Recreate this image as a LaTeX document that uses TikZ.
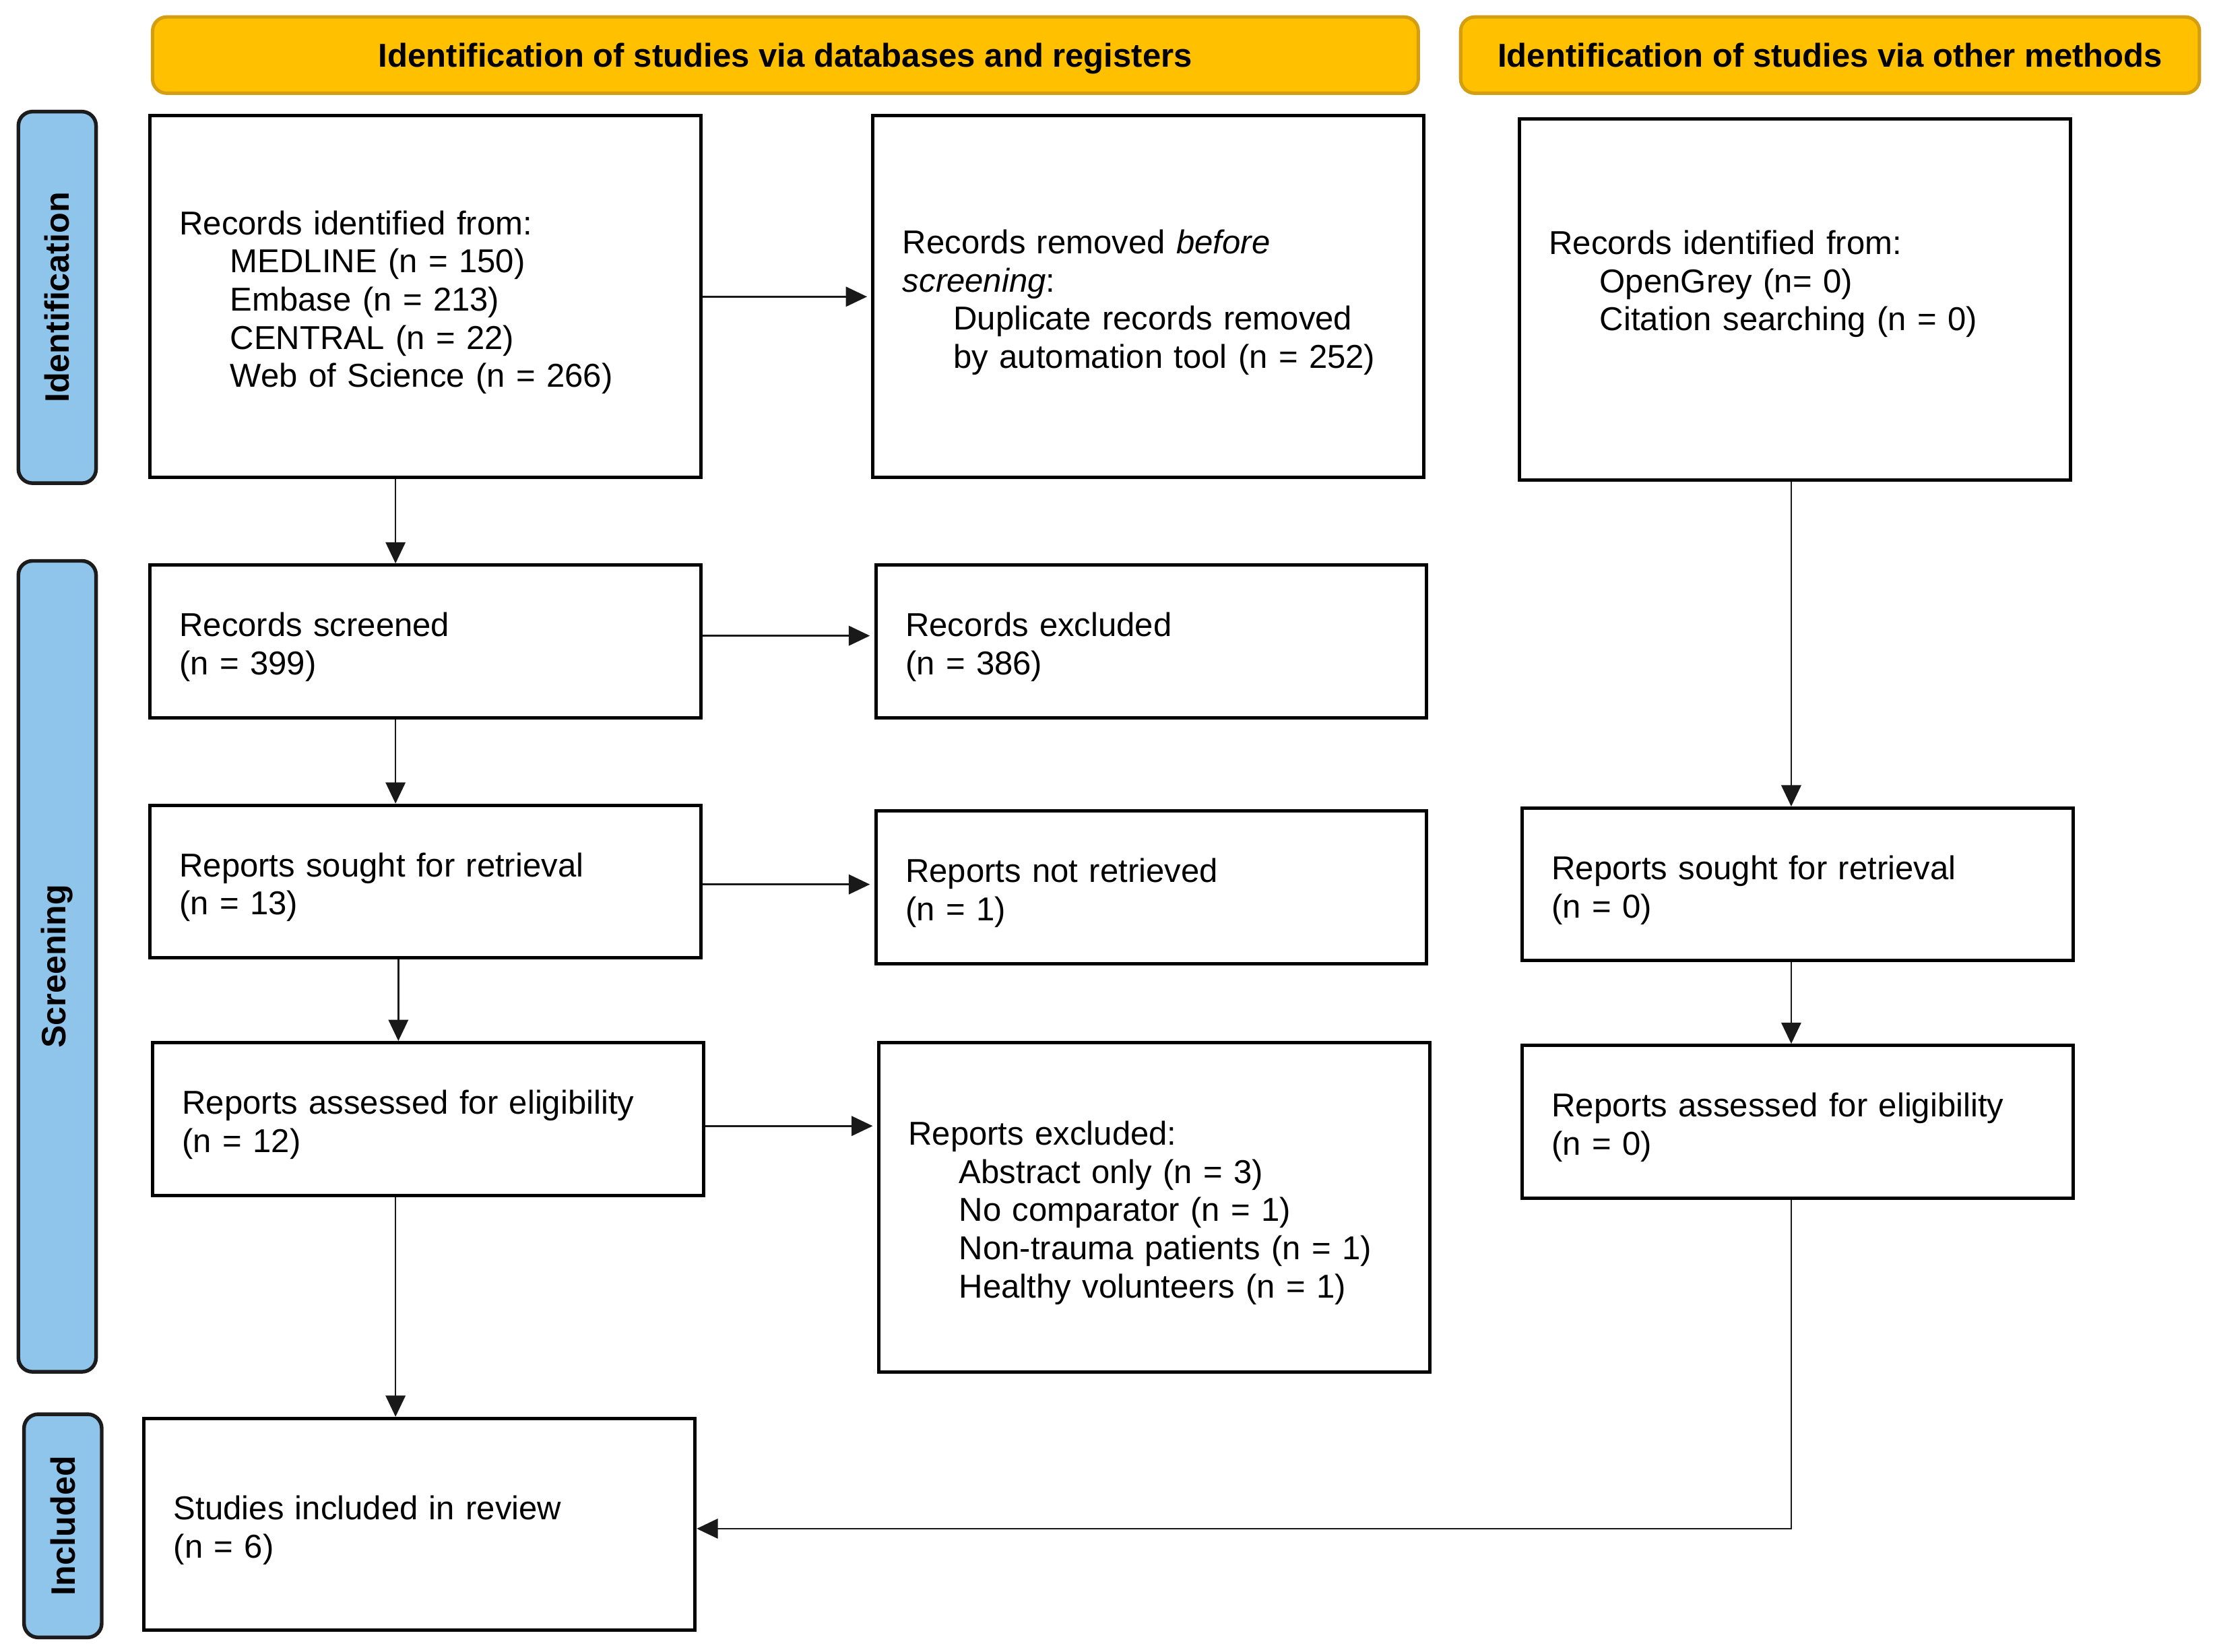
\documentclass[tikz,border=0pt]{standalone}
\usepackage{fontspec}
\setmainfont{Liberation Sans}
\usetikzlibrary{arrows.meta,calc}
\definecolor{hdrfill}{HTML}{FFC000}
\definecolor{hdrline}{HTML}{D39E12}
\definecolor{sidefill}{HTML}{8FC5EA}
\definecolor{sideline}{HTML}{1C1C1C}
\newcommand{\bodysize}{\fontsize{11.7}{13.5}\selectfont}
\newcommand{\ind}{\hspace*{18pt}}
\newcommand{\tp}{\rule{0pt}{12.5pt}}
\begin{document}
\begin{tikzpicture}[x=0.5pt,y=-0.5pt,
  box/.style={draw=black, line width=1.2pt, fill=white, inner xsep=10.5pt, inner ysep=2pt,
              text width=174pt, align=left, font=\bodysize},
  hdr/.style={draw=hdrline, fill=hdrfill, line width=1.2pt, rounded corners=5pt,
              minimum height=27pt, font=\bfseries\bodysize, align=center,
              text height=10.6pt, text depth=2.2pt},
  side/.style={draw=sideline, fill=sidefill, line width=1.3pt, rounded corners=5pt,
               rotate=90, minimum height=27.5pt, font=\bfseries\fontsize{12}{14}\selectfont},
  arr/.style={-{Triangle[length=7.5pt,width=7pt]}, line width=0.6pt, draw=black!90},
]
\useasboundingbox (0,0) rectangle (1568,1168.85);

% headers
\node[hdr, minimum width=448pt] (h1) at (556,39) {Identification of studies via databases and registers};
\node[hdr, minimum width=261.5pt] (h2) at (1295.5,39) {Identification of studies via other methods};

% side labels
\node[side, minimum width=131.5pt] (s1) at (40.5,210.5) {Identification};
\node[side, minimum width=287pt] (s2) at (40.5,684) {Screening};
\node[side, minimum width=79pt] (s3) at (44.5,1080) {Included};

% boxes
\node[box, minimum height=128pt] (A) at (301,210) {\tp Records identified from:\\
  \ind MEDLINE (n = 150)\\ \ind Embase (n = 213)\\ \ind CENTRAL (n = 22)\\ \ind Web of Science (n = 266)};
\node[box, minimum height=128pt] (B) at (813,210) {\tp Records removed \textit{before}\\ \textit{screening}:\\
  \ind Duplicate records removed\\ \ind by automation tool (n = 252)};
\node[box, minimum height=128pt] (C) at (1270.5,212) {Records identified from:\\
  \ind OpenGrey (n= 0)\\ \ind Citation searching (n = 0)\\ \mbox{}};
\node[box, minimum height=54pt] (D) at (301,454) {\tp Records screened\\ (n = 399)};
\node[box, minimum height=54pt] (E) at (815,454) {\tp Records excluded\\ (n = 386)};
\node[box, minimum height=54pt] (F) at (301,624) {\tp Reports sought for retrieval\\ (n = 13)};
\node[box, minimum height=54pt] (G) at (815,628) {\tp Reports not retrieved\\ (n = 1)};
\node[box, minimum height=54pt] (H) at (1272.5,626) {\tp Reports sought for retrieval\\ (n = 0)};
\node[box, minimum height=54pt] (I) at (303,792) {\tp Reports assessed for eligibility\\ (n = 12)};
\node[box, minimum height=116.5pt] (J) at (817,854.5) {\tp Reports excluded:\\
  \ind Abstract only (n = 3)\\ \ind No comparator (n = 1)\\ \ind Non-trauma patients (n = 1)\\ \ind Healthy volunteers (n = 1)};
\node[box, minimum height=54pt] (K) at (1272.5,794) {\tp Reports assessed for eligibility\\ (n = 0)};
\node[box, minimum height=75pt] (L) at (297,1079) {\tp Studies included in review\\ (n = 6)};

\coordinate (colL) at (280,0);
\coordinate (colR) at (1268,0);

% vertical connectors
\draw[arr] (A.south -| colL) -- (D.north -| colL);
\draw[arr] (D.south -| colL) -- (F.north -| colL);
\draw[arr] ([xshift=1pt]F.south -| colL) -- ([xshift=1pt]I.north -| colL);
\draw[arr] (I.south -| colL) -- (L.north -| colL);
\draw[arr] (C.south -| colR) -- (H.north -| colR);
\draw[arr] (H.south -| colR) -- (K.north -| colR);
\draw[arr] (K.south -| colR) |- ([yshift=-1.5pt]L.east);

% horizontal connectors
\draw[arr, shorten >=1.5pt] (A.east) -- (B.west);
\draw[arr, shorten >=1.5pt] ([yshift=2pt]D.east) -- ([yshift=2pt]D.east -| E.west);
\draw[arr, shorten >=1.5pt] ([yshift=-1pt]F.east) -- ([yshift=-1pt]F.east -| G.west);
\draw[arr, shorten >=1.5pt] ([yshift=-2.5pt]I.east) -- ([yshift=-2.5pt]I.east -| J.west);
\end{tikzpicture}
\end{document}
